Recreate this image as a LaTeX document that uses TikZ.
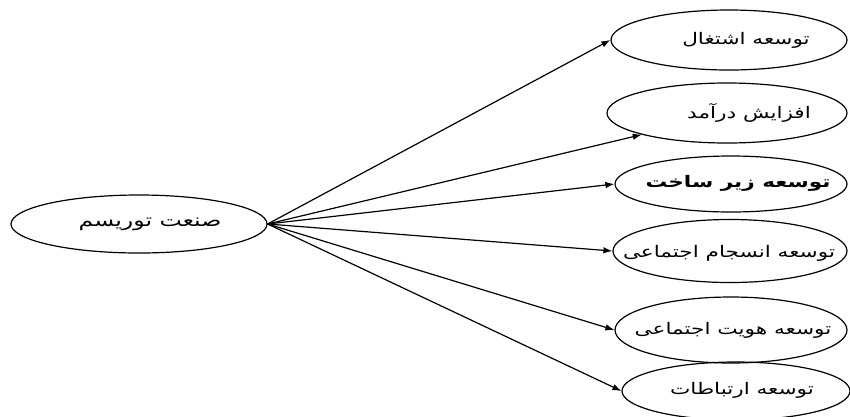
\documentclass[tikz,border=0pt]{standalone}
\usepackage{fontspec}
\usetikzlibrary{shapes.geometric,arrows.meta}
\newfontfamily\arabicfont[Script=Arabic,FakeStretch=1.35]{DejaVu Sans}
\TeXXeTstate=1
\tikzset{
  oval/.style={ellipse, draw, line width=1.2pt, inner sep=0pt},
  label text/.style={inner sep=0pt, font=\arabicfont\fontsize{16}{18}\selectfont},
  link/.style={line width=1.2pt, -{Latex[length=9pt,width=6.5pt]}}
}
\begin{document}
\begin{tikzpicture}[x=1pt,y=-1pt]
\useasboundingbox[fill=white] (0,0) rectangle (850,416);
\node[oval, minimum width=256pt, minimum height=58pt] (e0) at (139,224) {};
\node[oval, minimum width=236pt, minimum height=60pt] (e1) at (729,40) {};
\node[oval, minimum width=240pt, minimum height=60pt] (e2) at (727,113) {};
\node[oval, minimum width=232pt, minimum height=56pt] (e3) at (731,184) {};
\node[oval, minimum width=234pt, minimum height=63pt] (e4) at (730,251) {};
\node[oval, minimum width=232pt, minimum height=66pt] (e5) at (731,330) {};
\node[oval, minimum width=228pt, minimum height=58pt] (e6) at (736,391) {};
\node[label text, font=\arabicfont\fontsize{17.5}{19}\selectfont] (t0) at (150,224) {\beginR صنعت توریسم\endR};
\node[label text] (t1) at (746,40) {\beginR توسعه اشتغال\endR};
\node[label text] (t2) at (749,113) {\beginR افزایش درآمد\endR};
\node[label text, font=\arabicfont\bfseries\fontsize{16}{18}\selectfont] (t3) at (738,183) {\beginR توسعه زیر ساخت\endR};
\node[label text] (t4) at (729,253) {\beginR توسعه انسجام اجتماعی\endR};
\node[label text] (t5) at (733,330) {\beginR توسعه هویت اجتماعی\endR};
\node[label text] (t6) at (742,390) {\beginR توسعه  ارتباطات\endR};
\draw[link] (e0.east) -- (e1.west);
\draw[link] (e0.east) -- (e2.south west);
\draw[link] (e0.east) -- (e3.west);
\draw[link] (e0.east) -- (e4.west);
\draw[link] (e0.east) -- (e5.west);
\draw[link] (e0.east) -- (e6.west);
\end{tikzpicture}
\end{document}
